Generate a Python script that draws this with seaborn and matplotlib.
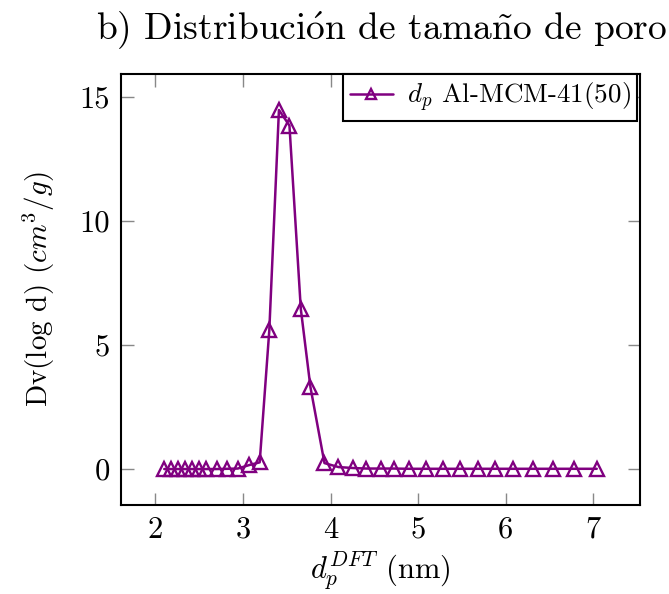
import matplotlib
matplotlib.use("Agg")
import matplotlib.pyplot as plt
import seaborn as sns
import pandas as pd

pore_size = [2.10, 2.18, 2.26, 2.34, 2.42, 2.50, 2.58, 2.70, 2.82, 2.94,
             3.07, 3.19, 3.30, 3.41, 3.53, 3.66, 3.77, 3.93, 4.09, 4.26,
             4.41, 4.57, 4.72, 4.89, 5.09, 5.28, 5.48, 5.68, 5.88, 6.08,
             6.31, 6.54, 6.78, 7.04]
dv_logd = [0.0, 0.0, 0.0, 0.0, 0.0, 0.0, 0.0, 0.0, 0.01, 0.02,
           0.16, 0.27, 5.6, 14.48, 13.85, 6.45, 3.3, 0.24, 0.08, 0.04,
           0.02, 0.02, 0.02, 0.01, 0.01, 0.01, 0.01, 0.01, 0.01, 0.01,
           0.01, 0.01, 0.01, 0.01]
x_ticks = [2, 3, 4, 5, 6, 7]
y_ticks = [0, 5, 10, 15]
series_label = r"$d_p$ Al-MCM-41(50)"

df = pd.DataFrame({"x": pore_size, "y": dv_logd})

sns.set_theme(style="white")
plt.rcParams["font.family"] = ["serif"]
plt.rcParams["font.serif"] = ["cmr10", "DejaVu Serif"]
plt.rcParams["mathtext.fontset"] = "cm"
plt.rcParams["axes.formatter.use_mathtext"] = True
plt.rcParams["text.color"] = "black"
plt.rcParams["axes.labelcolor"] = "black"
plt.rcParams["xtick.labelcolor"] = "black"
plt.rcParams["ytick.labelcolor"] = "black"

fig = plt.figure(figsize=(6.69, 5.94), dpi=100)
ax = fig.add_axes([121 / 669, 1 - 505 / 594, (640 - 121) / 669, (505 - 74) / 594])

purple = "#800080"
sns.lineplot(data=df, x="x", y="y", ax=ax, color=purple, linewidth=1.8,
             marker="^", markersize=9.5, markerfacecolor="none",
             markeredgecolor=purple, markeredgewidth=1.7, label=series_label)

ax.set_xlim(1.606, 7.534)
ax.set_ylim(-1.45, 15.93)
ax.set_xticks(x_ticks)
ax.set_yticks(y_ticks)
ax.set_xticklabels([str(t) for t in x_ticks])
ax.set_yticklabels([str(t) for t in y_ticks])
ax.tick_params(axis="both", which="both", direction="in", length=9, width=1,
               color="#888888", labelcolor="black", labelsize=22, top=True,
               right=True, bottom=True, left=True, pad=8)
for s in ax.spines.values():
    s.set_color("black")
    s.set_linewidth(1.5)

ax.set_xlabel(r"$d_p^{DFT}$ (nm)", fontsize=22, labelpad=4, color="black")
ax.set_ylabel(r"Dv(log d) $(cm^3/g)$", fontsize=21, labelpad=16, color="black")
fig.text(0.57, 1 - 31 / 594,
         r"b) Distribuci$\mathrm{\acute{o}}$n de tama$\mathrm{\tilde{n}}$o de poro",
         fontsize=27, ha="center", va="center", color="black")

leg = ax.legend(loc="upper right", fontsize=19.5, frameon=True, fancybox=False,
                handlelength=1.6, borderaxespad=0.0, borderpad=0.25,
                handletextpad=0.5, markerscale=0.7,
                bbox_to_anchor=(0.995, 1.0))
for t in leg.get_texts():
    t.set_color("black")
leg.get_frame().set_edgecolor("black")
leg.get_frame().set_linewidth(1.5)
leg.get_frame().set_alpha(1)

fig.savefig("out.png", dpi=100)
